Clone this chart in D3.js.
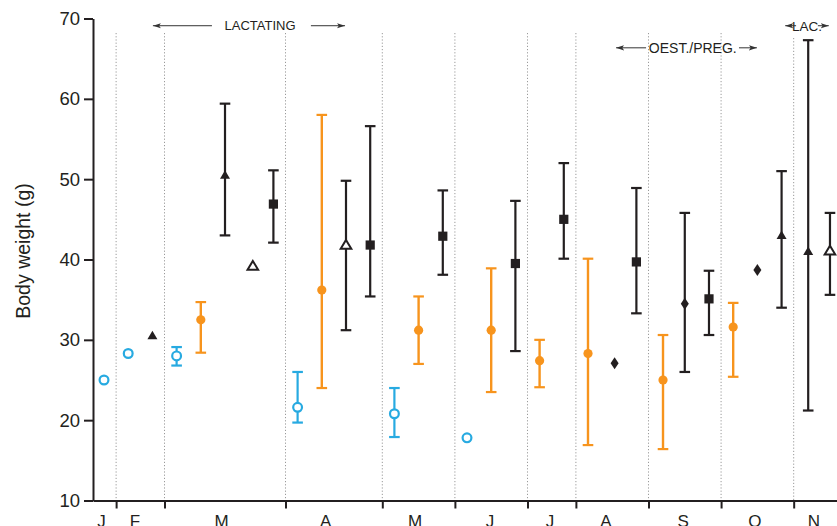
<!DOCTYPE html>
<html>
<head>
<meta charset="utf-8">
<script src="https://cdn.jsdelivr.net/npm/d3@7/dist/d3.min.js"></script>
<style>
  html, body { margin: 0; padding: 0; background: #fff; }
  svg { display: block; }
  text { font-family: "Liberation Sans", Arial, Helvetica, sans-serif; fill: #231f20; }
</style>
</head>
<body>
<svg id="chart" width="837" height="526"></svg>
<script>
// ---- data ----
const yTicks = [10, 20, 30, 40, 50, 60, 70];
const periodBounds = [0.5, 2.5, 7.5, 11.5, 14.5, 17.5, 19.5, 22.5, 25.5, 28.5];
const monthLabels = ["J", "F", "M", "A", "M", "J", "J", "A", "S", "O", "N"];
const monthPos = [-0.1, 1.28, 4.86, 9.16, 12.85, 15.95, 18.43, 20.74, 23.93, 26.9, 29.34];

// sample position (sequence index), symbol, mean, lower and upper error limits
const samplePos = [0, 1, 2, 3, 4, 5, 6.15, 7, 8, 9, 10, 11, 12, 13, 14, 15, 16, 17, 18, 19, 20, 21.1, 22, 23.1, 24, 25, 26, 27, 28, 29.1, 30];
const sampleSym = ["openCircle", "openCircle", "triangle", "openCircle", "circle", "triangle", "openTriangle", "square",
  "openCircle", "circle", "openTriangle", "square", "openCircle", "circle", "square", "openCircle", "circle", "square",
  "circle", "square", "circle", "diamond", "square", "circle", "diamond", "square", "circle", "diamond", "triangle",
  "triangle", "openTriangle"];
const sampleMean = [25.0, 28.3, 30.5, 28.0, 32.5, 50.5, 39.2, 46.9, 21.6, 36.2, 41.8, 41.8, 20.8, 31.2, 42.9, 17.8,
  31.2, 39.5, 27.4, 45.0, 28.3, 27.1, 39.7, 25.0, 34.5, 35.1, 31.6, 38.7, 43.0, 41.0, 41.1];
const sampleLow = [null, null, null, 26.8, 28.4, 43.0, null, 42.1, 19.7, 24.0, 31.2, 35.4, 17.9, 27.0, 38.1, null,
  23.5, 28.6, 24.1, 40.1, 16.9, null, 33.3, 16.4, 26.0, 30.6, 25.4, null, 34.0, 21.2, 35.6];
const sampleHigh = [null, null, null, 29.1, 34.7, 59.4, null, 51.1, 26.0, 58.0, 49.8, 56.6, 24.0, 35.4, 48.6, null,
  38.9, 47.3, 30.0, 52.0, 40.1, null, 48.9, 30.6, 45.8, 38.6, 34.6, null, 51.0, 67.3, 45.8];

// annotations: label, text centre, arrow start/end (sequence units), level (g)
const annoText = ["LACTATING", "OEST./PREG.", "LAC."];
const annoCenter = [6.45, 24.33, 29.05];
const annoLeftArrow = [[4.46, 2.02], [22.4, 21.16], [28.6, 28.15]];
const annoRightArrow = [[8.55, 9.96], [26.24, 26.98], [29.5, 29.95]];
const annoLevel = [69.1, 66.35, 69.1];
const annoSize = [13, 14, 13.5];

// ---- drawing ----
const svg = d3.select("#chart");
const ink = "#231f20", blue = "#27aae1", orange = "#f7941d";

const x = d3.scaleLinear().domain([-0.455, 30.29]).range([93, 837]);
const y = d3.scaleLinear().domain([10, 70]).range([500.5, 18.5]);

// dotted period separators
svg.append("g").selectAll("line").data(periodBounds).join("line")
  .attr("x1", d => x(d)).attr("x2", d => x(d))
  .attr("y1", (d, i) => i === periodBounds.length - 1 ? 38 : 33)
  .attr("y2", y(10))
  .attr("stroke", "#9a9a9a").attr("stroke-width", 1).attr("stroke-dasharray", "1.2,2");

// y axis
const yAxis = svg.append("g").attr("transform", `translate(${x(-0.455)},0)`)
  .call(d3.axisLeft(y).tickValues(yTicks).tickSize(9).tickSizeOuter(0).tickPadding(4));
yAxis.select(".domain").attr("stroke", ink).attr("stroke-width", 2);
yAxis.selectAll(".tick line").attr("stroke", ink).attr("stroke-width", 2);
yAxis.selectAll(".tick text").style("font-size", "18.5px").attr("fill", ink)
  .style("font-family", "'Liberation Sans', Arial, sans-serif");

// x axis
const xAxis = svg.append("g").attr("transform", `translate(0,${y(10)})`)
  .call(d3.axisBottom(x).tickValues(periodBounds).tickSize(8).tickSizeOuter(0).tickFormat(""));
xAxis.select(".domain").attr("stroke", ink).attr("stroke-width", 2);
xAxis.selectAll(".tick line").attr("stroke", ink).attr("stroke-width", 2);

// month labels
svg.append("g").selectAll("text").data(monthLabels).join("text")
  .attr("x", (d, i) => x(monthPos[i])).attr("y", 527)
  .attr("text-anchor", "middle").style("font-size", "17px").text(d => d);

// y title
svg.append("text")
  .attr("transform", `translate(30,251) rotate(-90)`)
  .attr("text-anchor", "middle").style("font-size", "19.5px")
  .text("Body weight (g)");

// annotations with arrows
const defs = svg.append("defs");
defs.append("marker").attr("id", "ah").attr("viewBox", "0 -4 8 8")
  .attr("refX", 8).attr("refY", 0).attr("markerWidth", 8).attr("markerHeight", 8)
  .attr("markerUnits", "userSpaceOnUse").attr("orient", "auto")
  .append("path").attr("d", "M0,-2.6L8,0L0,2.6L1.8,0Z").attr("fill", "#333");

const anno = svg.append("g");
annoText.forEach((t, i) => {
  const yy = y(annoLevel[i]);
  anno.append("text").attr("x", x(annoCenter[i])).attr("y", yy + annoSize[i] * 0.36)
    .attr("text-anchor", "middle").style("font-size", annoSize[i] + "px").attr("fill", "#333").text(t);
  [annoLeftArrow[i], annoRightArrow[i]].forEach(a => {
    anno.append("line").attr("x1", x(a[0])).attr("x2", x(a[1])).attr("y1", yy).attr("y2", yy)
      .attr("stroke", "#333").attr("stroke-width", 1).attr("marker-end", "url(#ah)");
  });
});

// error bars
const idx = d3.range(samplePos.length);
const colorOf = s => s === "openCircle" ? blue : (s === "circle" ? orange : ink);
const bars = svg.append("g");
idx.filter(i => sampleLow[i] !== null).forEach(i => {
  const cx = x(samplePos[i]), c = colorOf(sampleSym[i]);
  const w = sampleSym[i] === "circle" ? 2.4 : 2.2;
  bars.append("line").attr("x1", cx).attr("x2", cx)
    .attr("y1", y(sampleLow[i])).attr("y2", y(sampleHigh[i]))
    .attr("stroke", c).attr("stroke-width", w);
  [sampleLow[i], sampleHigh[i]].forEach(v => {
    bars.append("line").attr("x1", cx - 5.3).attr("x2", cx + 5.3)
      .attr("y1", y(v)).attr("y2", y(v)).attr("stroke", c).attr("stroke-width", 2.2);
  });
});

// markers
const marks = svg.append("g");
idx.forEach(i => {
  const cx = x(samplePos[i]), cy = y(sampleMean[i]), s = sampleSym[i];
  if (s === "openCircle") {
    marks.append("circle").attr("cx", cx).attr("cy", cy).attr("r", 4.4)
      .attr("fill", "#fff").attr("stroke", blue).attr("stroke-width", 2.2);
  } else if (s === "circle") {
    marks.append("circle").attr("cx", cx).attr("cy", cy).attr("r", 4.6).attr("fill", orange);
  } else if (s === "square") {
    marks.append("rect").attr("x", cx - 4.6).attr("y", cy - 4.6).attr("width", 9.2).attr("height", 9.2).attr("fill", ink);
  } else if (s === "diamond") {
    marks.append("path").attr("d", `M${cx},${cy - 6}L${cx + 4},${cy}L${cx},${cy + 6}L${cx - 4},${cy}Z`).attr("fill", ink);
  } else if (s === "triangle") {
    marks.append("path").attr("d", `M${cx},${cy - 5}L${cx + 5},${cy + 3.5}L${cx - 5},${cy + 3.5}Z`).attr("fill", ink);
  } else if (s === "openTriangle") {
    marks.append("path").attr("d", `M${cx},${cy - 5}L${cx + 5.3},${cy + 3.8}L${cx - 5.3},${cy + 3.8}Z`)
      .attr("fill", "#fff").attr("stroke", ink).attr("stroke-width", 2).attr("stroke-linejoin", "miter");
  }
});
</script>
</body>
</html>
